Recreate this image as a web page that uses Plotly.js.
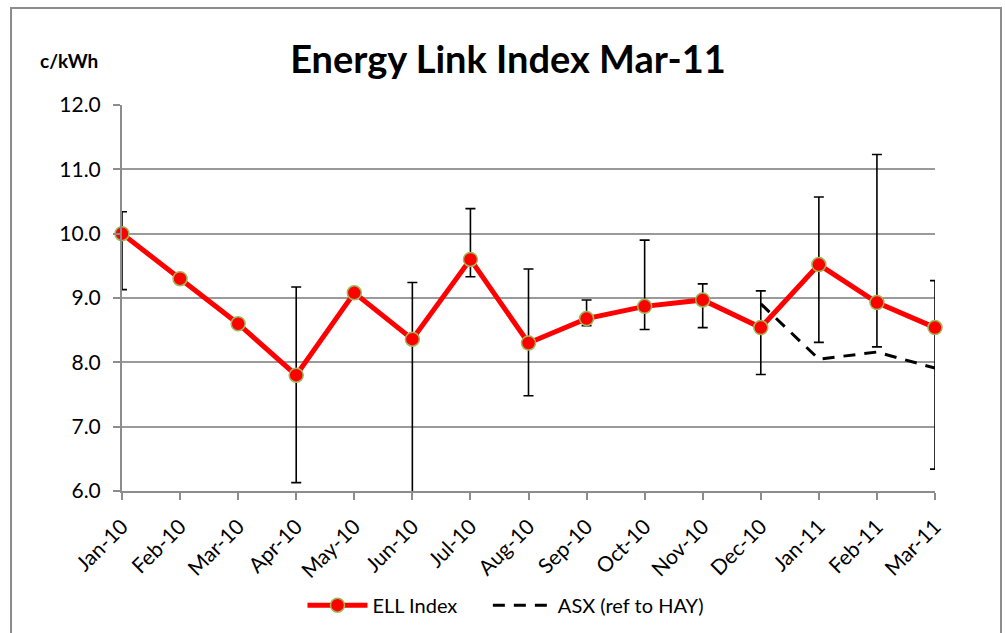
<!DOCTYPE html>
<html>
<head>
<meta charset="utf-8">
<script src="https://cdn.plot.ly/plotly-3.0.1.min.js"></script>
<style>
  html, body { margin: 0; padding: 0; background: #fff; overflow: hidden; }
  #chart { width: 1005px; height: 633px; }
</style>
</head>
<body>
<div id="chart"></div>
<script>
const months = ["Jan-10","Feb-10","Mar-10","Apr-10","May-10","Jun-10","Jul-10","Aug-10","Sep-10","Oct-10","Nov-10","Dec-10","Jan-11","Feb-11","Mar-11"];
const ellIndex = [10.0, 9.30, 8.60, 7.80, 9.08, 8.36, 9.60, 8.30, 8.68, 8.87, 8.97, 8.54, 9.52, 8.93, 8.54];
const ellHigh  = [10.34, null, null, 9.17, null, 9.24, 10.39, 9.45, 8.97, 9.90, 9.22, 9.11, 10.57, 11.23, 9.27];
const ellLow   = [9.13, null, null, 6.13, null, 5.60, 9.33, 7.48, 8.57, 8.51, 8.54, 7.81, 8.31, 8.24, 6.34];
const asxMonths = ["Dec-10","Jan-11","Feb-11","Mar-11"];
const asxValues = [8.91, 8.05, 8.16, 7.91];
const yTicks = [6, 7, 8, 9, 10, 11, 12];

const errPlus = ellIndex.map((v, i) => ellHigh[i] == null ? 0 : ellHigh[i] - v);
const errMinus = ellIndex.map((v, i) => ellLow[i] == null ? 0 : v - ellLow[i]);

const FONT = "Lato, 'Open Sans', sans-serif";

const traces = [
  {
    x: months, y: ellIndex, name: "ELL Index", type: "scatter", mode: "lines+markers",
    line: { color: "#ff0000", width: 5 },
    marker: { color: "#ff0000", size: 14, line: { color: "#9bbb59", width: 1.5 } },
    error_y: { type: "data", symmetric: false, array: errPlus, arrayminus: errMinus,
               color: "#000000", thickness: 1.6, width: 5 },
    cliponaxis: false, legend: "legend"
  },
  {
    x: asxMonths, y: asxValues, name: "ASX (ref to HAY)", type: "scatter", mode: "lines",
    line: { color: "#000000", width: 3, dash: "12px,9px" }, legend: "legend2"
  }
];

const legendBase = { orientation: "h", xanchor: "left", yref: "container", y: 0.044, yanchor: "middle",
                     font: { family: FONT, size: 20, color: "#000" }, itemwidth: 60,
                     bgcolor: "rgba(0,0,0,0)" };

const layout = {
  width: 1005, height: 633,
  margin: { l: 122, r: 70, t: 105, b: 142, autoexpand: false },
  paper_bgcolor: "#ffffff", plot_bgcolor: "#ffffff",
  font: { family: FONT, color: "#000000", size: 19 },
  title: { text: "<b>Energy Link Index Mar-11</b>", font: { family: FONT, size: 38, color: "#000" },
           x: 0.5055, xref: "container", xanchor: "center", y: 0.905, yref: "container", yanchor: "middle" },
  xaxis: {
    type: "category", range: [0, months.length - 1], tickangle: -45,
    showgrid: false, zeroline: false,
    showline: true, linecolor: "#8c8c8c", linewidth: 2,
    ticks: "outside", ticklen: 7, tickwidth: 2, tickcolor: "#8c8c8c",
    ticklabelstandoff: 6,
    tickfont: { family: FONT, size: 21, color: "#000" },
    fixedrange: true
  },
  yaxis: {
    range: [6, 12], tickvals: yTicks, tickformat: ".1f",
    showgrid: true, gridcolor: "#9a9a9a", gridwidth: 2, zeroline: false,
    showline: true, linecolor: "#8c8c8c", linewidth: 2,
    ticks: "outside", ticklen: 7, tickwidth: 2, tickcolor: "#8c8c8c",
    ticklabelstandoff: 8,
    tickfont: { family: FONT, size: 21, color: "#000" },
    fixedrange: true
  },
  showlegend: true,
  legend: Object.assign({}, legendBase, { x: 0.222 }),
  legend2: Object.assign({}, legendBase, { x: 0.450 }),
  annotations: [
    { text: "<b>c/kWh</b>", xref: "paper", yref: "paper", x: -0.065, y: 1.115,
      xanchor: "center", yanchor: "middle", showarrow: false,
      font: { family: FONT, size: 19, color: "#000" } }
  ],
  shapes: [
    { type: "rect", xref: "paper", yref: "paper", x0: -0.1365, x1: 1.0812, y0: -0.4, y1: 1.2513,
      line: { color: "#8c8c8c", width: 2 }, fillcolor: "rgba(0,0,0,0)", layer: "below" }
  ]
};

Plotly.newPlot("chart", traces, layout, { displayModeBar: false, staticPlot: true });
</script>
</body>
</html>
